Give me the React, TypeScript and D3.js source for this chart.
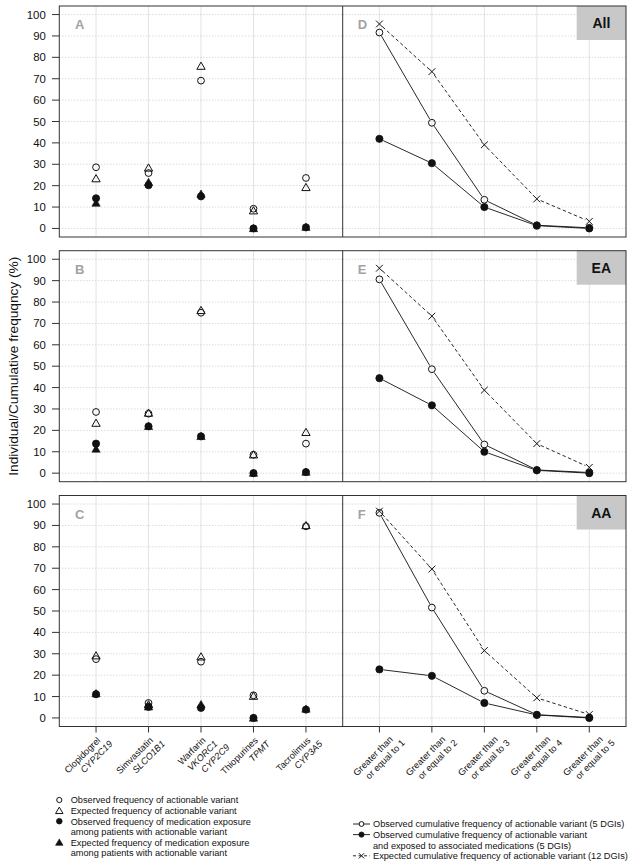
import React from "react";
import * as d3 from "d3";

// ---------- data ----------
const drugLabels: string[][] = [
  ["Clopidogrel", "CYP2C19"],
  ["Simvastatin", "SLCO1B1"],
  ["Warfarin", "VKORC1", "CYP2C9"],
  ["Thiopurines", "TPMT"],
  ["Tacrolimus", "CYP3A5"],
];
const cumLabels: string[][] = [
  ["Greater than", "or equal to 1"],
  ["Greater than", "or equal to 2"],
  ["Greater than", "or equal to 3"],
  ["Greater than", "or equal to 4"],
  ["Greater than", "or equal to 5"],
];
const yTicks = [0, 10, 20, 30, 40, 50, 60, 70, 80, 90, 100];
const groups = ["All", "EA", "AA"];
const leftLetters = ["A", "B", "C"];
const rightLetters = ["D", "E", "F"];

// left panels: individual frequencies (%)
const obsVariantAll = [28.6, 25.9, 69.1, 9.2, 23.6];
const expVariantAll = [23.3, 28.3, 75.9, 8.3, 19.2];
const obsExposureAll = [14.1, 20.2, 15.0, 0, 0.5];
const expExposureAll = [11.9, 21.6, 16.1, 0, 0.6];

const obsVariantEA = [28.6, 27.8, 75.0, 8.6, 13.8];
const expVariantEA = [23.4, 28.1, 76.1, 8.6, 19.1];
const obsExposureEA = [13.8, 21.9, 17.2, 0, 0.5];
const expExposureEA = [11.3, 21.9, 17.2, 0, 0.5];

const obsVariantAA = [27.5, 7.0, 26.3, 10.6, 89.6];
const expVariantAA = [29.1, 6.2, 28.6, 10.2, 90.0];
const obsExposureAA = [11.1, 5.2, 4.7, 0, 3.9];
const expExposureAA = [11.4, 5.2, 6.3, 0, 4.2];

// right panels: cumulative frequencies (%)
const cumObsAll = [91.6, 49.4, 13.4, 1.5, 0.3];
const cumExpoAll = [41.9, 30.5, 10.0, 1.3, 0];
const cumExpAll = [95.6, 73.3, 39.1, 13.8, 3.3];

const cumObsEA = [90.6, 48.6, 13.4, 1.5, 0.3];
const cumExpoEA = [44.4, 31.7, 10.0, 1.3, 0];
const cumExpEA = [95.8, 73.4, 38.8, 13.8, 2.7];

const cumObsAA = [95.9, 51.6, 12.7, 1.5, 0.2];
const cumExpoAA = [22.7, 19.7, 7.0, 1.4, 0];
const cumExpAA = [96.7, 69.6, 31.5, 9.4, 1.6];

const leftLegend = [
  "Observed frequency of actionable variant",
  "Expected frequency of actionable variant",
  "Observed frequency of medication exposure",
  "among patients with actionable variant",
  "Expected frequency of medication exposure",
  "among patients with actionable variant",
];
const rightLegend = [
  "Observed cumulative frequency of actionable variant (5 DGIs)",
  "Observed cumulative frequency of actionable variant",
  "and exposed to associated medications (5 DGIs)",
  "Expected cumulative frequency of actionable variant (12 DGIs)",
];
const yTitle = "Individual/Cumulative frequqncy (%)";

const leftData = [
  [obsVariantAll, expVariantAll, obsExposureAll, expExposureAll],
  [obsVariantEA, expVariantEA, obsExposureEA, expExposureEA],
  [obsVariantAA, expVariantAA, obsExposureAA, expExposureAA],
];
const rightData = [
  [cumObsAll, cumExpoAll, cumExpAll],
  [cumObsEA, cumExpoEA, cumExpEA],
  [cumObsAA, cumExpoAA, cumExpAA],
];

// ---------- layout ----------
const W = 635;
const H = 862;
const FONT = "'Liberation Sans', Arial, Helvetica, sans-serif";
const left0 = 59.3;
const split = 342.7;
const right1 = 626;
const tops = [6, 250.7, 495.5];
const ph = 231;
const INK = "#111";

const xL = d3.scaleLinear().domain([0.3, 5.7]).range([left0, split]);
const xR = d3.scaleLinear().domain([0.3, 5.7]).range([split, right1]);
const yFor = (top: number) => d3.scaleLinear().domain([-4, 104]).range([top + ph, top]);

const triPath = d3.symbol().type(d3.symbolTriangle).size(30)() as string;
const triPathSmall = d3.symbol().type(d3.symbolTriangle).size(24)() as string;

function OpenCircle({ x, y, r = 3.4 }: any) {
  return <circle cx={x} cy={y} r={r} fill="none" stroke={INK} strokeWidth={1} />;
}
function FilledCircle({ x, y, r = 3.6 }: any) {
  return <circle cx={x} cy={y} r={r} fill={INK} stroke={INK} strokeWidth={0.8} />;
}
function OpenTri({ x, y, small = false }: any) {
  return (
    <path d={small ? triPathSmall : triPath} transform={`translate(${x},${y + 0.8})`} fill="none" stroke={INK} strokeWidth={1} />
  );
}
function FilledTri({ x, y, small = false }: any) {
  return <path d={small ? triPathSmall : triPath} transform={`translate(${x},${y + 0.8})`} fill={INK} stroke={INK} strokeWidth={0.6} />;
}
function Cross({ x, y, s = 3.4 }: any) {
  return (
    <g stroke={INK} strokeWidth={1}>
      <line x1={x - s} y1={y - s} x2={x + s} y2={y + s} />
      <line x1={x - s} y1={y + s} x2={x + s} y2={y - s} />
    </g>
  );
}

function GappedLine({ pts, dashed }: { pts: [number, number][]; dashed?: boolean }) {
  const gap = 4.2;
  const segs: JSX.Element[] = [];
  for (let i = 0; i < pts.length - 1; i++) {
    const [x1, y1] = pts[i];
    const [x2, y2] = pts[i + 1];
    const len = Math.hypot(x2 - x1, y2 - y1);
    if (len <= gap * 2) continue;
    const ux = (x2 - x1) / len;
    const uy = (y2 - y1) / len;
    segs.push(
      <line
        key={i}
        x1={x1 + ux * gap}
        y1={y1 + uy * gap}
        x2={x2 - ux * gap}
        y2={y2 - uy * gap}
        stroke={INK}
        strokeWidth={0.9}
        strokeDasharray={dashed ? "3.5,2.5" : undefined}
      />
    );
  }
  return <g>{segs}</g>;
}

function Grid({ x0, x1, top, xs }: { x0: number; x1: number; top: number; xs: d3.ScaleLinear<number, number> }) {
  const y = yFor(top);
  return (
    <g>
      {[1, 2, 3, 4, 5].map((c) => (
        <line key={"v" + c} x1={xs(c)} x2={xs(c)} y1={top} y2={top + ph} stroke="#e3e3e3" strokeWidth={1} />
      ))}
      {yTicks.map((t) => (
        <line key={"h" + t} x1={x0} x2={x1} y1={y(t)} y2={y(t)} stroke="#bdbdbd" strokeWidth={0.8} strokeDasharray="1,2" />
      ))}
    </g>
  );
}

function XLabels({ labels, xs, dx, y0 }: any) {
  return (
    <g fontFamily={FONT} fontSize={9.2} fill={INK}>
      {labels.map((lines: string[], c: number) =>
        lines.map((ln: string, i: number) => {
          const ex = xs(c + 1) + dx + i * 12;
          const ey = y0 + i * 3.5;
          return (
            <text
              key={c + "-" + i}
              transform={`translate(${ex},${ey}) rotate(-45)`}
              textAnchor="end"
              fontStyle={xs === xL && i > 0 ? "italic" : "normal"}
            >
              {ln}
            </text>
          );
        })
      )}
    </g>
  );
}

export default function App() {
  return (
    <svg
      width={W}
      height={H}
      viewBox={`0 0 ${W} ${H}`}
      style={{ position: "absolute", left: 0, top: 0, background: "#fff" }}
    >
      <rect x={0} y={0} width={W} height={H} fill="#fff" />
      {groups.map((g, p) => {
        const top = tops[p];
        const y = yFor(top);
        const [ov, ev, oe, ee] = leftData[p];
        const [co, ce, cx] = rightData[p];
        return (
          <g key={g}>
            <Grid x0={left0} x1={split} top={top} xs={xL} />
            <Grid x0={split} x1={right1} top={top} xs={xR} />
            {/* y axis */}
            <g fontFamily={FONT} fontSize={11.4} fill={INK}>
              {yTicks.map((t) => (
                <g key={t}>
                  <line x1={52} x2={left0} y1={y(t)} y2={y(t)} stroke="#333" strokeWidth={1} />
                  <text x={45.8} y={y(t) + 4} textAnchor="end">
                    {t}
                  </text>
                </g>
              ))}
            </g>
            {/* panel letters */}
            <text x={left0 + 15.7} y={top + 23.3} fontFamily={FONT} fontWeight="bold" fontSize={13} fill="#a3a3a3">
              {leftLetters[p]}
            </text>
            <text x={split + 15} y={top + 23.3} fontFamily={FONT} fontWeight="bold" fontSize={13} fill="#a3a3a3">
              {rightLetters[p]}
            </text>
            {/* group label box */}
            <rect x={576.7} y={top} width={right1 - 576.7} height={34} fill="#c8c8c8" />
            <text x={(576.7 + right1) / 2} y={top + 22.3} textAnchor="middle" fontFamily={FONT} fontWeight="bold" fontSize={14} fill={INK}>
              {g}
            </text>
            {/* left panel points */}
            {ov.map((v, i) => (
              <OpenCircle key={"ov" + i} x={xL(i + 1)} y={y(v)} />
            ))}
            {ev.map((v, i) => (
              <OpenTri key={"ev" + i} x={xL(i + 1)} y={y(v)} />
            ))}
            {ee.map((v, i) => (
              <FilledTri key={"ee" + i} x={xL(i + 1)} y={y(v)} />
            ))}
            {oe.map((v, i) => (
              <FilledCircle key={"oe" + i} x={xL(i + 1)} y={y(v)} />
            ))}
            {/* right panel lines */}
            <GappedLine pts={cx.map((v, i) => [xR(i + 1), y(v)] as [number, number])} dashed />
            <GappedLine pts={co.map((v, i) => [xR(i + 1), y(v)] as [number, number])} />
            <GappedLine pts={ce.map((v, i) => [xR(i + 1), y(v)] as [number, number])} />
            {cx.map((v, i) => (
              <Cross key={"cx" + i} x={xR(i + 1)} y={y(v)} />
            ))}
            {co.map((v, i) => (
              <OpenCircle key={"co" + i} x={xR(i + 1)} y={y(v)} />
            ))}
            {ce.map((v, i) => (
              <FilledCircle key={"ce" + i} x={xR(i + 1)} y={y(v)} />
            ))}
            {/* frames */}
            <rect x={left0} y={top} width={right1 - left0} height={ph} fill="none" stroke="#333" strokeWidth={1} />
            <line x1={split} x2={split} y1={top} y2={top + ph} stroke="#333" strokeWidth={1} />
          </g>
        );
      })}

      {/* x ticks at bottom */}
      {[1, 2, 3, 4, 5].map((c) => (
        <g key={"xt" + c} stroke="#333" strokeWidth={1}>
          <line x1={xL(c)} x2={xL(c)} y1={tops[2] + ph} y2={tops[2] + ph + 6} />
          <line x1={xR(c)} x2={xR(c)} y1={tops[2] + ph} y2={tops[2] + ph + 6} />
        </g>
      ))}
      <XLabels labels={drugLabels} xs={xL} dx={5} y0={741} />
      <XLabels labels={cumLabels} xs={xR} dx={14} y0={740} />

      {/* y title */}
      <text
        transform={`translate(18,${tops[1] + ph / 2}) rotate(-90)`}
        textAnchor="middle"
        fontFamily={FONT}
        fontSize={13.7}
        fill={INK}
      >
        {yTitle}
      </text>

      {/* left legend */}
      <g fontFamily={FONT} fontSize={9.2} fill={INK}>
        {leftLegend.map((t, i) => (
          <text key={i} x={70.7} y={800 + i * 10.6 + 3.3}>
            {t}
          </text>
        ))}
      </g>
      <OpenCircle x={59.3} y={800} r={2.6} />
      <OpenTri x={59.3} y={810.6} small />
      <FilledCircle x={59.3} y={821.2} r={2.8} />
      <FilledTri x={59.3} y={842.4} small />

      {/* right legend */}
      <g fontFamily={FONT} fontSize={9.2} fill={INK}>
        {rightLegend.map((t, i) => (
          <text key={i} x={373} y={824 + i * 10.6 + 3.3}>
            {t}
          </text>
        ))}
      </g>
      <g stroke={INK} strokeWidth={0.9}>
        <line x1={353} x2={370} y1={824} y2={824} />
        <line x1={353} x2={370} y1={834.6} y2={834.6} />
        <line x1={353} x2={370} y1={855.8} y2={855.8} strokeDasharray="3,2.5" />
      </g>
      <circle cx={361.5} cy={824} r={2.4} fill="#fff" stroke={INK} strokeWidth={1} />
      <FilledCircle x={361.5} y={834.6} r={2.6} />
      <Cross x={361.5} y={855.8} s={2.6} />
    </svg>
  );
}
